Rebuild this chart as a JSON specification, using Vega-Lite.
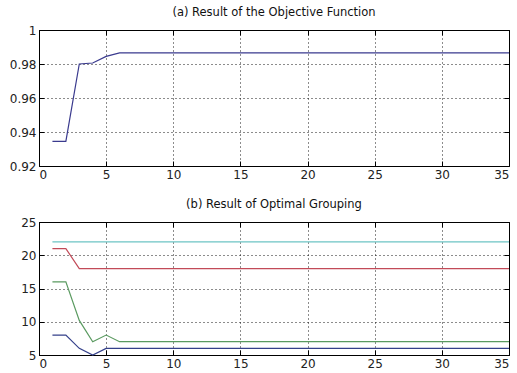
{
  "$schema": "https://vega.github.io/schema/vega-lite/v6.json",
  "autosize": {"type": "pad"},
  "padding": {"left": 8, "top": 6, "right": 0, "bottom": 2},
  "background": "white",
  "spacing": 17,
  "config": {
    "font": "DejaVu Sans",
    "view": {"stroke": "black", "strokeWidth": 1},
    "axis": {
      "domain": false,
      "gridColor": "black",
      "gridDash": [1, 3],
      "gridOpacity": 0.9,
      "gridWidth": 1,
      "tickColor": "black",
      "tickSize": -5,
      "labelColor": "#222",
      "labelFontSize": 12,
      "labelFont": "DejaVu Sans",
      "title": null
    },
    "axisX": {"labelPadding": 8},
    "axisY": {"labelPadding": 8},
    "title": {"fontSize": 11.5, "fontWeight": "normal", "font": "DejaVu Sans", "color": "#111", "offset": 6}
  },
  "datasets": {
    "obj": [
      {"iter": 1, "value": 0.9345},
      {"iter": 2, "value": 0.9345},
      {"iter": 3, "value": 0.98},
      {"iter": 4, "value": 0.9806},
      {"iter": 5, "value": 0.9845},
      {"iter": 6, "value": 0.9865},
      {"iter": 35, "value": 0.9865}
    ],
    "grp": [
      {"iter": 1, "group": "g1", "value": 8},
      {"iter": 2, "group": "g1", "value": 8},
      {"iter": 3, "group": "g1", "value": 6},
      {"iter": 4, "group": "g1", "value": 5},
      {"iter": 5, "group": "g1", "value": 6},
      {"iter": 6, "group": "g1", "value": 6},
      {"iter": 35, "group": "g1", "value": 6},
      {"iter": 1, "group": "g2", "value": 16},
      {"iter": 2, "group": "g2", "value": 16},
      {"iter": 3, "group": "g2", "value": 10.2},
      {"iter": 4, "group": "g2", "value": 7},
      {"iter": 5, "group": "g2", "value": 8},
      {"iter": 6, "group": "g2", "value": 7},
      {"iter": 35, "group": "g2", "value": 7},
      {"iter": 1, "group": "g3", "value": 21},
      {"iter": 2, "group": "g3", "value": 21},
      {"iter": 3, "group": "g3", "value": 18},
      {"iter": 4, "group": "g3", "value": 18},
      {"iter": 5, "group": "g3", "value": 18},
      {"iter": 6, "group": "g3", "value": 18},
      {"iter": 35, "group": "g3", "value": 18},
      {"iter": 1, "group": "g4", "value": 22},
      {"iter": 2, "group": "g4", "value": 22},
      {"iter": 35, "group": "g4", "value": 22}
    ]
  },
  "vconcat": [
    {
      "width": 470,
      "height": 136,
      "title": {"text": "(a) Result of the Objective Function", "anchor": "middle"},
      "data": {"name": "obj"},
      "layer": [
        {
          "mark": {"type": "line", "color": "#3a3a8e", "strokeWidth": 1.2},
          "encoding": {
            "x": {"field": "iter", "type": "quantitative", "scale": {"domain": [0, 35], "nice": false}, "axis": {"orient": "bottom", "grid": true, "values": [0, 5, 10, 15, 20, 25, 30, 35]}},
            "y": {"field": "value", "type": "quantitative", "scale": {"domain": [0.92, 1], "nice": false, "zero": false}, "axis": {"orient": "left", "grid": true, "values": [0.92, 0.94, 0.96, 0.98, 1], "format": "~g"}}
          }
        },
        {
          "mark": {"type": "line", "opacity": 0},
          "encoding": {
            "x": {"field": "iter", "type": "quantitative", "scale": {"domain": [0, 35], "nice": false}, "axis": {"orient": "top", "values": [0, 5, 10, 15, 20, 25, 30, 35], "labels": false, "grid": false}},
            "y": {"field": "value", "type": "quantitative", "scale": {"domain": [0.92, 1], "nice": false, "zero": false}, "axis": {"orient": "right", "values": [0.92, 0.94, 0.96, 0.98, 1], "labels": false, "grid": false}}
          }
        }
      ]
    },
    {
      "width": 470,
      "height": 133,
      "title": {"text": "(b) Result of Optimal Grouping", "anchor": "middle"},
      "data": {"name": "grp"},
      "layer": [
        {
          "mark": {"type": "line", "strokeWidth": 1.2},
          "encoding": {
            "x": {"field": "iter", "type": "quantitative", "scale": {"domain": [0, 35], "nice": false}, "axis": {"orient": "bottom", "grid": true, "values": [0, 5, 10, 15, 20, 25, 30, 35]}},
            "y": {"field": "value", "type": "quantitative", "scale": {"domain": [5, 25], "nice": false, "zero": false}, "axis": {"orient": "left", "grid": true, "values": [5, 10, 15, 20, 25]}},
            "color": {"field": "group", "type": "nominal", "legend": null, "scale": {"domain": ["g1", "g2", "g3", "g4"], "range": ["#34408a", "#5a9a60", "#c24a58", "#6cc4c4"]}}
          }
        },
        {
          "mark": {"type": "line", "opacity": 0},
          "encoding": {
            "x": {"field": "iter", "type": "quantitative", "scale": {"domain": [0, 35], "nice": false}, "axis": {"orient": "top", "values": [0, 5, 10, 15, 20, 25, 30, 35], "labels": false, "grid": false}},
            "y": {"field": "value", "type": "quantitative", "scale": {"domain": [5, 25], "nice": false, "zero": false}, "axis": {"orient": "right", "values": [5, 10, 15, 20, 25], "labels": false, "grid": false}}
          }
        }
      ]
    }
  ]
}
